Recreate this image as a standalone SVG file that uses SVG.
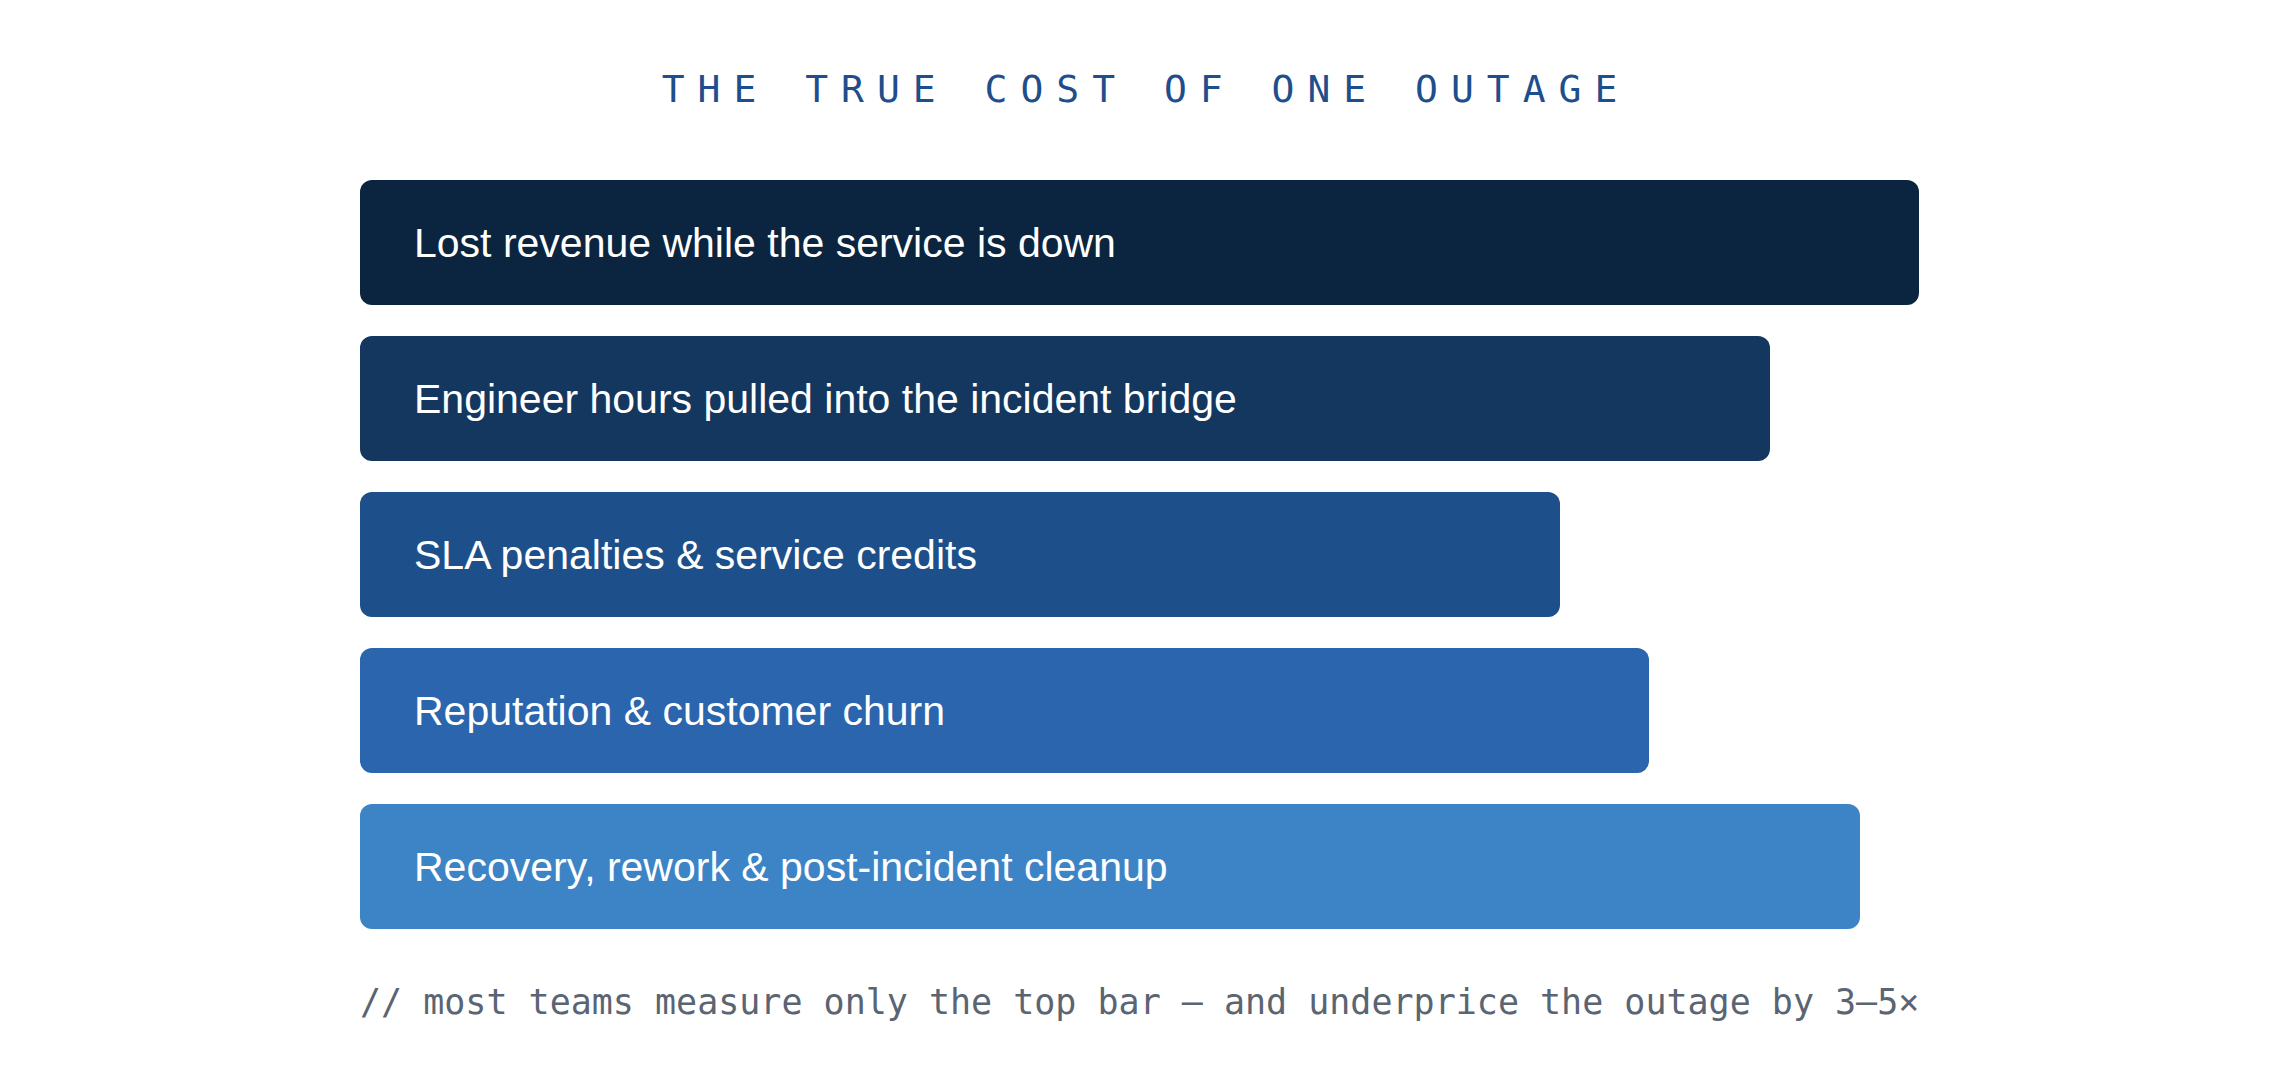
<svg xmlns="http://www.w3.org/2000/svg" width="2280" height="1080" viewBox="0 0 2280 1080">
<style>
.bar text{font-family:"Liberation Sans",Arial,sans-serif;font-size:41px;fill:#ffffff}
.title{font-family:"DejaVu Sans Mono","Liberation Mono",monospace;font-size:38px;fill:#1f4e8c;letter-spacing:13px}
.foot{font-family:"DejaVu Sans Mono","Liberation Mono",monospace;font-size:35px;fill:#5a6472}
</style>
<rect width="2280" height="1080" fill="#ffffff"/>
<text class="title" x="1146" y="102" text-anchor="middle">THE TRUE COST OF ONE OUTAGE</text>
<g id="bar1" class="bar"><rect x="360" y="180" width="1559" height="125" rx="12" fill="#0b2540"/><text x="414" y="257">Lost revenue while the service is down</text></g>
<g id="bar2" class="bar"><rect x="360" y="336" width="1410" height="125" rx="12" fill="#14375f"/><text x="414" y="413">Engineer hours pulled into the incident bridge</text></g>
<g id="bar3" class="bar"><rect x="360" y="492" width="1200" height="125" rx="12" fill="#1d4f8a"/><text x="414" y="569">SLA penalties &amp; service credits</text></g>
<g id="bar4" class="bar"><rect x="360" y="648" width="1289" height="125" rx="12" fill="#2b65ae"/><text x="414" y="725">Reputation &amp; customer churn</text></g>
<g id="bar5" class="bar"><rect x="360" y="804" width="1500" height="125" rx="12" fill="#3d84c6"/><text x="414" y="881">Recovery, rework &amp; post-incident cleanup</text></g>
<g id="connectors"/>
<text class="foot" x="360" y="1014">// most teams measure only the top bar — and underprice the outage by 3–5×</text>
</svg>
